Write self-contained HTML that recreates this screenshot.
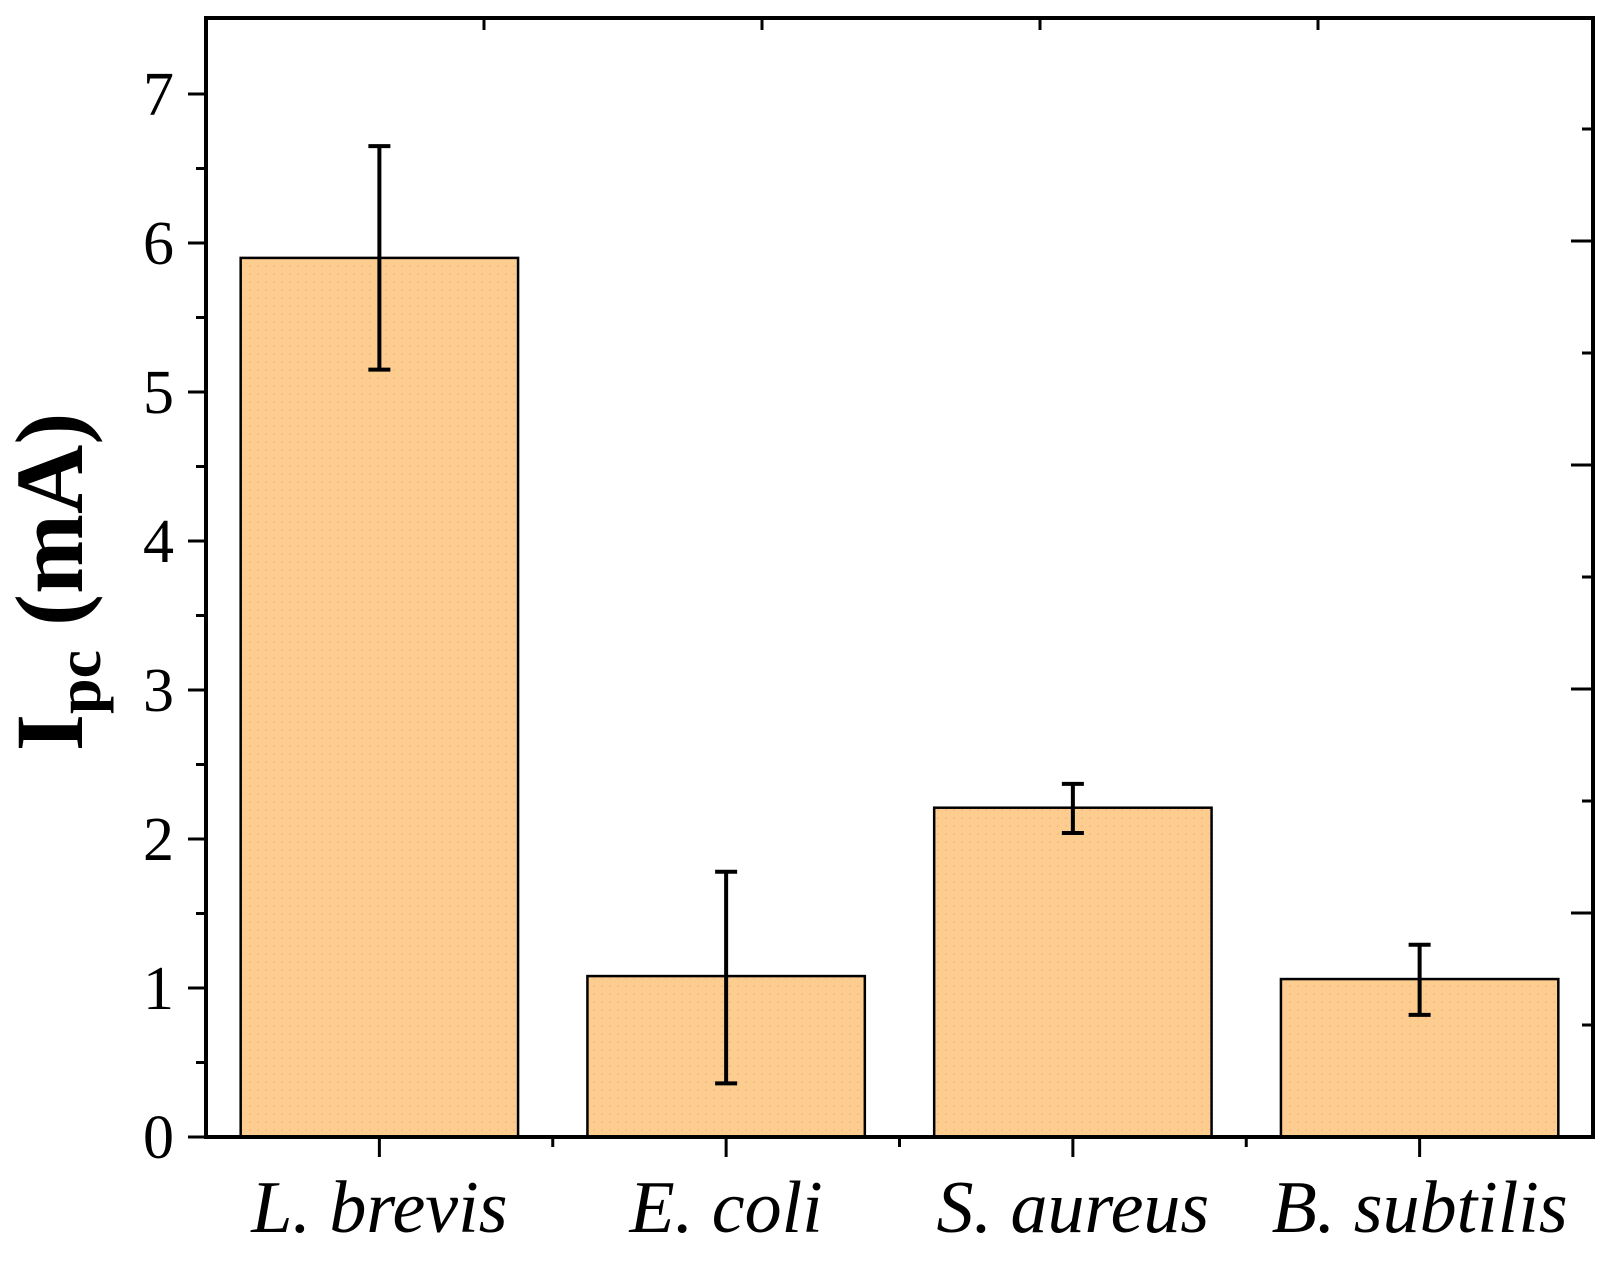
<!DOCTYPE html>
<html><head><meta charset="utf-8"><style>
html,body{margin:0;padding:0;background:#fff;}
svg{display:block;font-family:"Liberation Serif",serif;}
</style></head><body>
<svg id="chart" width="1613" height="1268" viewBox="0 0 1613 1268">
<defs><pattern id="dots" width="8" height="8" patternUnits="userSpaceOnUse"><rect width="8" height="8" fill="#fdcc8f"/><circle cx="2" cy="2" r="0.9" fill="#f9b48a"/></pattern></defs>
<g id="bars"></g>
<g id="axes"></g>
<text transform="translate(82,582) rotate(-90)" text-anchor="middle" font-size="96" font-weight="bold">I<tspan font-size="64" dy="18">pc</tspan><tspan dy="-18"> (mA)</tspan></text>
</svg>
<script>
const categories = ["L. brevis","E. coli","S. aureus","B. subtilis"];
const values = [5.9, 1.08, 2.21, 1.06];
const errHigh = [6.65, 1.78, 2.37, 1.29];
const errLow = [5.15, 0.36, 2.04, 0.82];
const yTicks = [0,1,2,3,4,5,6,7];

const L=206,R=1593,T=18,B=1137;
const y = v => B - v*149;
const band = (R-L)/categories.length;
const xc = i => L + band*(i+0.5);
const NS="http://www.w3.org/2000/svg";
function mk(tag, attrs, parent){const e=document.createElementNS(NS,tag);for(const k in attrs)e.setAttribute(k,attrs[k]);parent.appendChild(e);return e;}
const bars=document.getElementById('bars'), axes=document.getElementById('axes');
const bw=band*0.8;
categories.forEach((c,i)=>{
  const r=mk('rect',{x:xc(i)-bw/2,y:y(values[i]),width:bw,height:B-y(values[i]),fill:'url(#dots)',stroke:'#000','stroke-width':2.5},bars);
  
  
  const g=mk('g',{stroke:'#000','stroke-width':4},bars);
  
  
  mk('line',{x1:xc(i),x2:xc(i),y1:y(errHigh[i]),y2:y(errLow[i])},g);
  mk('line',{x1:xc(i)-11,x2:xc(i)+11,y1:y(errHigh[i]),y2:y(errHigh[i])},g);
  mk('line',{x1:xc(i)-11,x2:xc(i)+11,y1:y(errLow[i]),y2:y(errLow[i])},g);
  const t=mk('text',{x:xc(i),y:1232,'text-anchor':'middle','font-size':74,'font-style':'italic'},axes);
  t.textContent=c;
  
  
  mk('line',{x1:xc(i),x2:xc(i),y1:B,y2:B+20,stroke:'#000','stroke-width':3},axes);
  if(i>0) mk('line',{x1:L+band*i,x2:L+band*i,y1:B,y2:B+10,stroke:'#000','stroke-width':3},axes);
});
yTicks.forEach(v=>{
  mk('line',{x1:L-18,x2:L,y1:y(v),y2:y(v),stroke:'#000','stroke-width':3},axes);
  if(v<7) mk('line',{x1:L-10,x2:L,y1:y(v+0.5),y2:y(v+0.5),stroke:'#000','stroke-width':3},axes);
  const t=mk('text',{x:174,y:y(v)+21,'text-anchor':'end','font-size':62},axes);
  t.textContent=v;
  
  
});
for(let k=1;k<=4;k++) mk('line',{x1:L+278*k,x2:L+278*k,y1:T,y2:T+12,stroke:'#000','stroke-width':3},axes);
for(let k=1;k<=9;k++) mk('line',{x1:R-(k%2?11:22),x2:R,y1:B-112*k,y2:B-112*k,stroke:'#000','stroke-width':3},axes);
const frame=mk('rect',{x:L,y:T,width:R-L,height:B-T,fill:'none',stroke:'#000','stroke-width':4},axes);


</script>
</body></html>
